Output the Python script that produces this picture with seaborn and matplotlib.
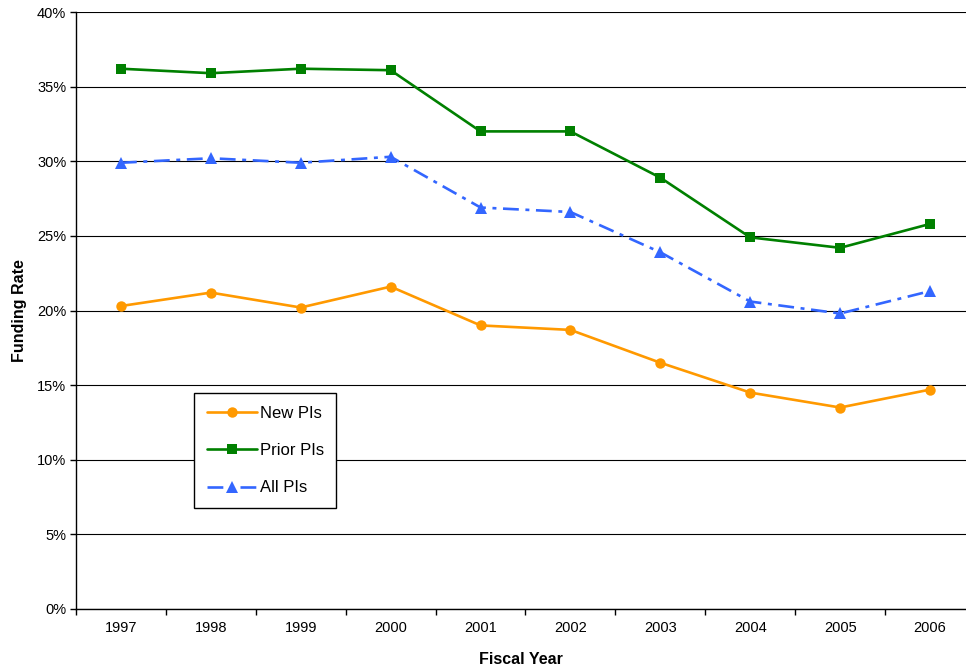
import matplotlib
matplotlib.use("Agg")
import matplotlib.pyplot as plt
from matplotlib.ticker import MultipleLocator, FixedLocator, FuncFormatter
import seaborn as sns
import pandas as pd

years = ["1997", "1998", "1999", "2000", "2001", "2002", "2003", "2004", "2005", "2006"]
new_pis = [20.3, 21.2, 20.2, 21.6, 19.0, 18.7, 16.5, 14.5, 13.5, 14.7]
prior_pis = [36.2, 35.9, 36.2, 36.1, 32.0, 32.0, 28.9, 24.9, 24.2, 25.8]
all_pis = [29.9, 30.2, 29.9, 30.3, 26.9, 26.6, 23.9, 20.6, 19.8, 21.3]

series = {"New PIs": new_pis, "Prior PIs": prior_pis, "All PIs": all_pis}
colors = {"New PIs": "#FF9900", "Prior PIs": "#008000", "All PIs": "#3366FF"}
markers = {"New PIs": "o", "Prior PIs": "s", "All PIs": "^"}
msizes = {"New PIs": 7.5, "Prior PIs": 7.5, "All PIs": 9}
dashes = {"New PIs": "", "Prior PIs": "", "All PIs": (6, 2.5, 1.5, 2.5)}

rows = []
for name, vals in series.items():
    for i, v in enumerate(vals):
        rows.append({"pos": i, "rate": v, "series": name})
df = pd.DataFrame(rows)

sns.set_style("white")
plt.rcParams["font.family"] = ["Liberation Sans", "DejaVu Sans"]
plt.rcParams["text.color"] = "black"
plt.rcParams["axes.labelcolor"] = "black"
plt.rcParams["xtick.color"] = "black"
plt.rcParams["ytick.color"] = "black"

fig = plt.figure(figsize=(9.66, 6.69), dpi=100)
ax = fig.add_axes([76 / 966, 60 / 669, 890 / 966, 597 / 669])

for name in series:
    sub = df[df["series"] == name]
    sns.lineplot(data=sub, x="pos", y="rate", color=colors[name],
                 marker=markers[name], markersize=msizes[name],
                 markeredgewidth=0, linewidth=1.9,
                 ax=ax, legend=False, zorder=3)
    if dashes[name]:
        ax.lines[-1].set_dashes(dashes[name])

ax.set_ylim(0, 40)
ax.set_xlim(-0.5, 9.4)
ax.yaxis.set_major_locator(MultipleLocator(5))
ax.yaxis.set_major_formatter(FuncFormatter(lambda v, p: f"{v:.0f}%"))
ax.xaxis.set_major_locator(FixedLocator(range(len(years))))
ax.set_xticklabels(years)
ax.xaxis.set_minor_locator(FixedLocator([i - 0.5 for i in range(len(years) + 1)]))

ax.grid(axis="y", color="#000000", linewidth=0.8, zorder=0)
ax.grid(axis="x", visible=False)
for s in ["top", "right"]:
    ax.spines[s].set_visible(False)
for s in ["left", "bottom"]:
    ax.spines[s].set_color("black")
    ax.spines[s].set_linewidth(1.0)

ax.tick_params(axis="y", which="major", direction="out", length=4, width=1,
               color="black", labelcolor="black", labelsize=10.5, pad=3, left=True)
ax.tick_params(axis="x", which="major", length=0, labelsize=10.5, pad=9,
               labelcolor="black")
ax.tick_params(axis="x", which="minor", direction="out", length=4, width=1,
               color="black", bottom=True)

ax.set_xlabel("Fiscal Year", fontsize=11.5, fontweight="bold", labelpad=12)
ax.set_ylabel("Funding Rate", fontsize=11.5, fontweight="bold", labelpad=7)

handles = [
    plt.Line2D([], [], color=colors[n], marker=markers[n], markersize=msizes[n],
               markeredgewidth=0, linewidth=1.9,
               linestyle=(0, dashes[n]) if dashes[n] else "-")
    for n in series
]
leg = ax.legend(handles, list(series.keys()), loc="upper left",
                bbox_to_anchor=(118 / 890, 216 / 597), frameon=True,
                fancybox=False, edgecolor="black", framealpha=1,
                fontsize=12, handlelength=3.0, handletextpad=0.2,
                labelspacing=1.35, borderpad=0.75, borderaxespad=0)
leg.get_frame().set_linewidth(1.0)

fig.savefig("out.png", dpi=100, facecolor="white")
